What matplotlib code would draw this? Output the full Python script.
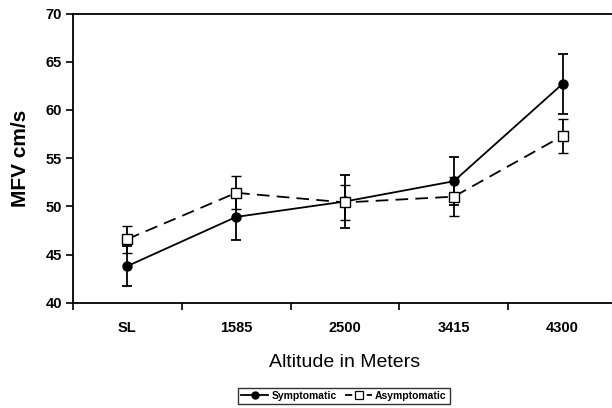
import matplotlib.pyplot as plt
from matplotlib.lines import Line2D
import numpy as np

# Data
altitudes = ['SL', '1585', '2500', '3415', '4300']
symp_mean = [43.8, 48.9, 50.5, 52.6, 62.7]
symp_err = [2.1, 2.4, 2.7, 2.5, 3.1]
asymp_mean = [46.6, 51.4, 50.4, 51.0, 57.3]
asymp_err = [1.4, 1.7, 1.8, 2.0, 1.8]

fnt = ['Liberation Sans Narrow', 'Liberation Sans', 'DejaVu Sans']
plt.rcParams['font.family'] = fnt

fig = plt.figure(figsize=(6.12, 4.08), dpi=100)
ax = fig.add_axes([73/612, 1-302.7/408, 544/612, 289.2/408])

x = np.arange(len(altitudes))
ax.errorbar(x, symp_mean, yerr=symp_err, color='black', lw=1.3, ls='-',
            marker='o', ms=6.5, mfc='black', mec='black',
            elinewidth=1.3, capsize=3.5, capthick=1.3, zorder=3)
ax.errorbar(x, asymp_mean, yerr=asymp_err, color='black', lw=1.3, ls=(0, (7, 4)),
            marker='s', ms=7.5, mfc='white', mec='black', mew=1.0,
            elinewidth=1.3, capsize=3.5, capthick=1.3, zorder=4)

ax.set_xlim(-0.5, 4.5)
ax.set_ylim(40, 70)
ax.set_yticks(range(40, 71, 5))
ax.set_xticks(x)
ax.set_xticklabels(altitudes, fontweight='bold', fontsize=10.5)
ax.set_xticks(np.arange(-0.5, 5, 1), minor=True)
ax.tick_params(axis='x', which='major', length=0, pad=13)
ax.tick_params(axis='x', which='minor', length=5, width=1.2, direction='out')
ax.tick_params(axis='y', length=5, width=1.2, direction='out', pad=3)
for lab in ax.get_yticklabels():
    lab.set_fontweight('bold')
    lab.set_fontsize(10.5)

for s in ['left', 'bottom', 'top', 'right']:
    ax.spines[s].set_linewidth(1.3)

ax.set_ylabel('MFV cm/s', fontsize=15, fontweight='bold', family=['Liberation Sans', 'DejaVu Sans'], labelpad=11)
ax.set_xlabel('Altitude in Meters', fontsize=14, family=['Liberation Sans', 'DejaVu Sans'], labelpad=14)

# legend handles: plain line + marker, no error bars
handles = [Line2D([], [], color='black', lw=1.3, ls='-', marker='o', ms=5, mfc='black'),
           Line2D([], [], color='black', lw=1.3, ls=(0, (4, 2)), marker='s', ms=5.5, mfc='white', mew=0.9)]
leg = fig.legend(handles, ['Symptomatic', 'Asymptomatic'], loc='center',
                 bbox_to_anchor=(344/612, 1-396/408), ncol=2,
                 prop={'weight': 'bold', 'size': 7.5}, frameon=True, fancybox=False,
                 edgecolor='black', handlelength=2.6, handletextpad=0.3,
                 columnspacing=0.8, borderpad=0.3)
leg.get_frame().set_linewidth(1.0)

fig.savefig('out.png', dpi=100)
